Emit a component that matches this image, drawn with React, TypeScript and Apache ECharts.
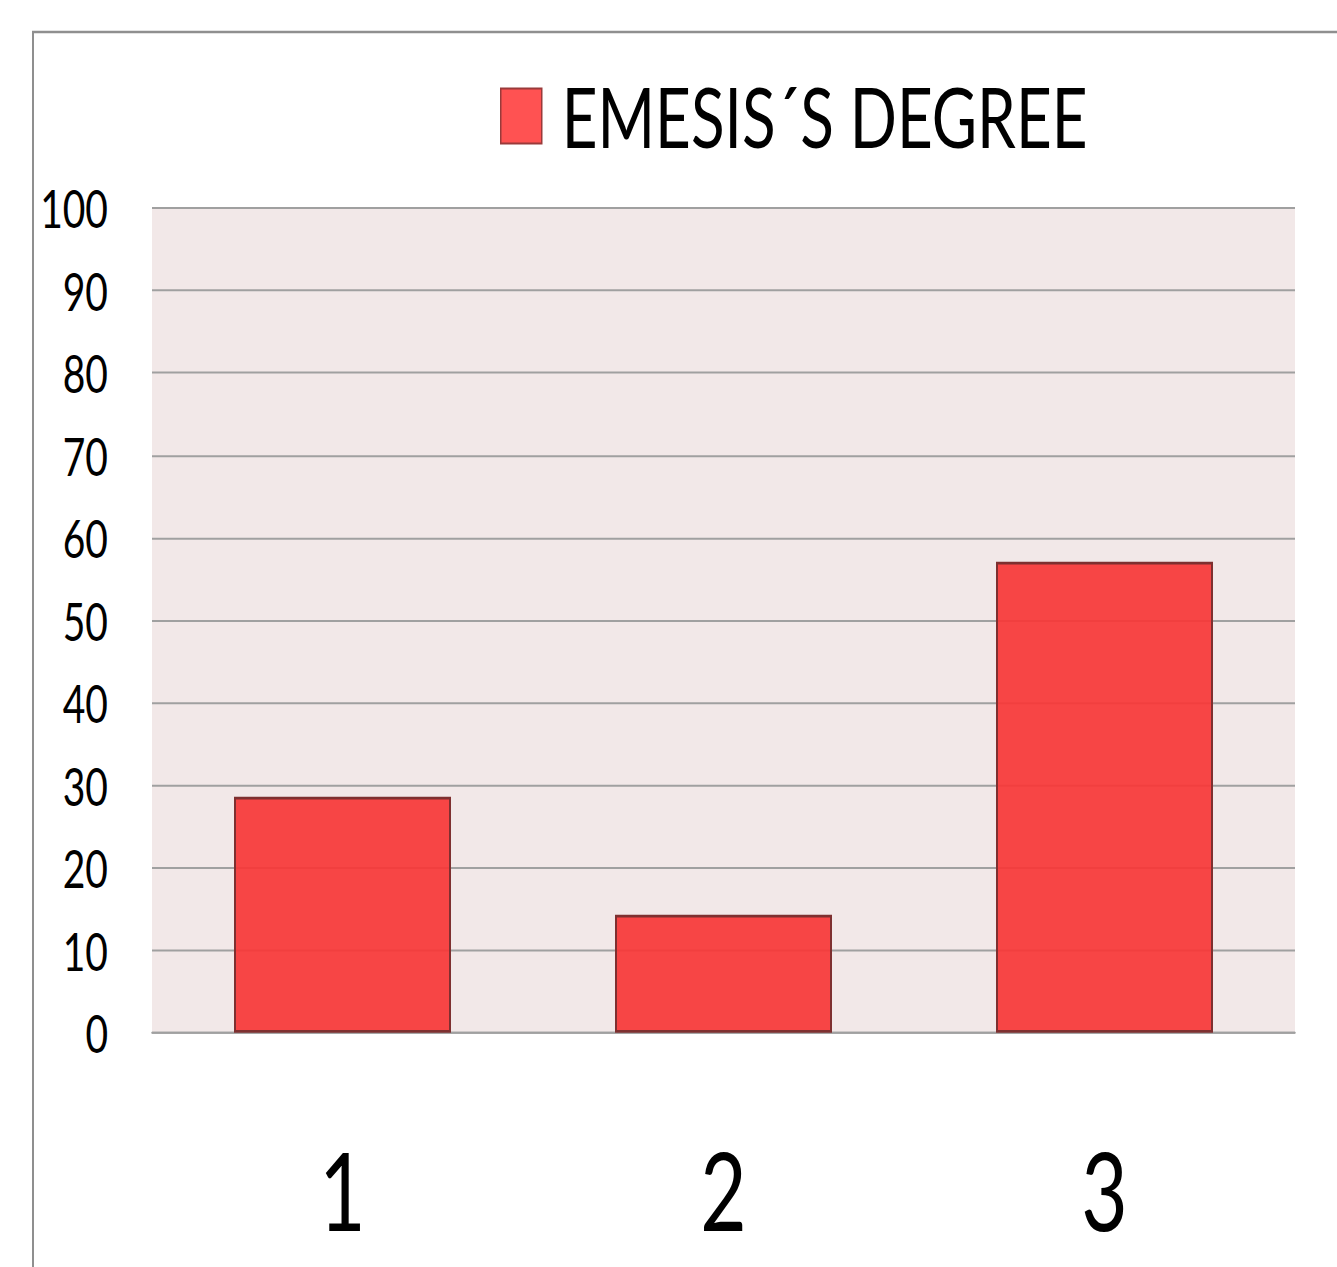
import React, { useEffect, useRef } from "react";
import * as echarts from "echarts";

const categories = ["1", "2", "3"];
const seriesName = "EMESIS´S DEGREE";
const values = [28.6, 14.3, 57.1];
const yMin = 0;
const yMax = 100;
const yInterval = 10;

const FONT = "Lato, 'Open Sans', sans-serif";
// The reference is vertically stretched; draw at a shorter height and scale up.
const K = 1.35;
const W = 1337;
const H = 1267 / K;

export default function App() {
  const ref = useRef<HTMLDivElement>(null);
  useEffect(() => {
    if (!ref.current) return;
    const chart = echarts.init(ref.current, undefined, { renderer: "svg" });
    chart.setOption({
      animation: false,
      backgroundColor: "#ffffff",
      graphic: [
        {
          type: "rect",
          shape: { x: 33, y: 32 / K, width: 1400, height: 1300 },
          style: { fill: "none", stroke: "#8f8f8f", lineWidth: 2 },
          z: -1,
        },
      ],
      legend: {
        left: 495,
        top: 50,
        itemWidth: 41,
        itemHeight: 55 / K,
        icon: "rect",
        data: [
          {
            name: seriesName,
            itemStyle: { color: "#FF5252", borderColor: "#9a3a3a", borderWidth: 1.5 },
          },
        ],
        textStyle: {
          fontFamily: FONT,
          fontSize: 62,
          color: "#000",
          padding: [0, 0, 5, 15],
        },
      },
      grid: {
        left: 152,
        right: 42,
        top: 208 / K,
        bottom: 235 / K,
        show: true,
        backgroundColor: "#F2E8E8",
        borderWidth: 0,
      },
      xAxis: {
        type: "category",
        data: categories,
        axisTick: { show: false },
        axisLine: { show: true, lineStyle: { color: "#a0a0a0", width: 1.5 } },
        axisLabel: {
          fontFamily: FONT,
          fontSize: 80,
          color: "#000",
          margin: 76,
        },
      },
      yAxis: {
        type: "value",
        min: yMin,
        max: yMax,
        interval: yInterval,
        axisLine: { show: false },
        axisTick: { show: false },
        splitLine: { lineStyle: { color: "#a0a0a0", width: 1.5 } },
        axisLabel: {
          fontFamily: FONT,
          fontSize: 39,
          color: "#000",
          margin: 44,
        },
      },
      series: [
        {
          name: seriesName,
          type: "bar",
          data: values,
          barWidth: 217,
          itemStyle: {
            color: "rgba(248, 56, 56, 0.93)",
            borderColor: "#7e3030",
            borderWidth: 2,
          },
        },
      ],
    });
    return () => chart.dispose();
  }, []);
  return (
    <div
      ref={ref}
      style={{
        position: "absolute",
        left: 0,
        top: 0,
        width: W,
        height: H,
        transform: `scaleY(${K})`,
        transformOrigin: "0 0",
      }}
    />
  );
}
